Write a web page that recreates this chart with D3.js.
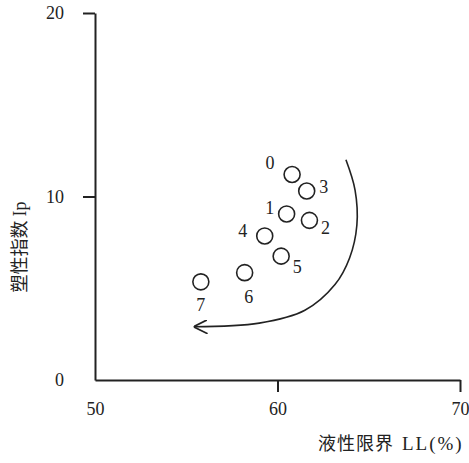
<!DOCTYPE html>
<html>
  <head>
    <meta charset="utf-8">
    <title>plasticity</title>
    <script src="https://cdn.jsdelivr.net/npm/d3@7"></script>
    <style>
      body { margin: 0; background: #fff; }
      text { fill: #222; }
    </style>
  </head>
  <body>
  <svg width="469" height="463"></svg>
  <script>
    // sample number, liquid limit LL(%), plasticity index Ip
    var sampleIds = ["0", "1", "2", "3", "4", "5", "6", "7"];
    var llValues = [60.8, 60.5, 61.75, 61.6, 59.3, 60.2, 58.2, 55.8];
    var ipValues = [11.2, 9.05, 8.7, 10.3, 7.85, 6.75, 5.85, 5.35];

    var xTicks = [50, 60, 70];
    var yTicks = [0, 10, 20];

    // trend arrow, in data units (LL, Ip)
    var arrowLL = [63.75, 64.25, 64.35, 63.95, 63.15, 61.5, 59.0, 55.4];
    var arrowIp = [12.0, 10.35, 8.45, 6.65, 5.2, 3.8, 3.1, 2.9];

    var svg = d3.select("svg");
    var ink = "#222";
    var serif = "'Liberation Serif', 'DejaVu Serif', serif";
    var cjk = "'Noto Sans CJK SC', 'Noto Sans CJK JP', sans-serif";

    var x = d3.scaleLinear().domain([50, 70]).range([95, 460]);
    var y = d3.scaleLinear().domain([0, 20]).range([380, 13]);

    // y axis
    var gy = svg.append("g")
      .attr("transform", "translate(" + x(50) + ",0)")
      .call(d3.axisLeft(y).tickValues(yTicks).tickSize(12).tickSizeOuter(0).tickPadding(19));
    gy.selectAll(".tick line").filter(function(d){ return d === 0; }).remove();

    // x axis
    var gx = svg.append("g")
      .attr("transform", "translate(0," + y(0) + ")")
      .call(d3.axisBottom(x).tickValues(xTicks).tickSize(12).tickSizeOuter(0).tickPadding(10));
    gx.selectAll(".tick line").filter(function(d){ return d === 50; }).remove();

    svg.selectAll(".domain, .tick line")
      .attr("stroke", ink)
      .attr("stroke-width", 2);
    svg.selectAll(".tick text")
      .attr("fill", ink)
      .style("font-family", serif)
      .style("font-size", "18px");

    // axis titles
    var xt = svg.append("text")
      .attr("x", 318)
      .attr("y", 450)
      .style("font-size", "18px")
      .style("font-family", cjk)
      .style("letter-spacing", "1px");
    xt.append("tspan").text("液性限界");
    xt.append("tspan")
      .attr("dx", 8)
      .style("font-family", serif)
      .style("font-size", "19px")
      .style("letter-spacing", "2px")
      .text("LL(%)");

    svg.append("text")
      .attr("transform", "translate(26,247) rotate(-90)")
      .attr("text-anchor", "middle")
      .style("font-size", "18px")
      .style("font-family", cjk)
      .text("塑性指数 ")
      .append("tspan")
      .style("font-family", serif)
      .text("Ip");

    // arrow
    svg.append("marker")
      .attr("id", "head")
      .attr("markerUnits", "userSpaceOnUse")
      .attr("viewBox", "0 -6 12 12")
      .attr("refX", 12)
      .attr("refY", 0)
      .attr("markerWidth", 14)
      .attr("markerHeight", 14)
      .attr("orient", "auto")
      .append("path")
      .attr("d", "M0,-6L12,0L0,6")
      .attr("fill", "none")
      .attr("stroke", ink)
      .attr("stroke-width", 1.5);

    var arrowPts = arrowLL.map(function(v, i){ return [v, arrowIp[i]]; });
    svg.append("path")
      .datum(arrowPts)
      .attr("d", d3.line()
        .x(function(d){ return x(d[0]); })
        .y(function(d){ return y(d[1]); })
        .curve(d3.curveCatmullRom))
      .attr("fill", "none")
      .attr("stroke", ink)
      .attr("stroke-width", 1.6)
      .attr("marker-end", "url(#head)");

    // points
    var points = sampleIds.map(function(id, i){
      return {id: id, ll: llValues[i], ip: ipValues[i]};
    });

    svg.append("g")
      .selectAll("circle")
      .data(points)
      .enter()
      .append("circle")
      .attr("cx", function(d){ return x(d.ll); })
      .attr("cy", function(d){ return y(d.ip); })
      .attr("r", 8)
      .attr("fill", "none")
      .attr("stroke", ink)
      .attr("stroke-width", 1.6);

    // label placement around each circle (px)
    var labelShift = {
      "0": [-22, -12], "1": [-17, -6], "2": [16, 7], "3": [17, -4],
      "4": [-22, -5], "5": [16, 11], "6": [4, 24], "7": [0, 23]
    };

    svg.append("g")
      .selectAll("text")
      .data(points)
      .enter()
      .append("text")
      .attr("x", function(d){ return x(d.ll) + labelShift[d.id][0]; })
      .attr("y", function(d){ return y(d.ip) + labelShift[d.id][1]; })
      .attr("text-anchor", "middle")
      .attr("dy", "0.35em")
      .style("font-family", serif)
      .style("font-size", "18px")
      .text(function(d){ return d.id; });
  </script>
  </body>
</html>
